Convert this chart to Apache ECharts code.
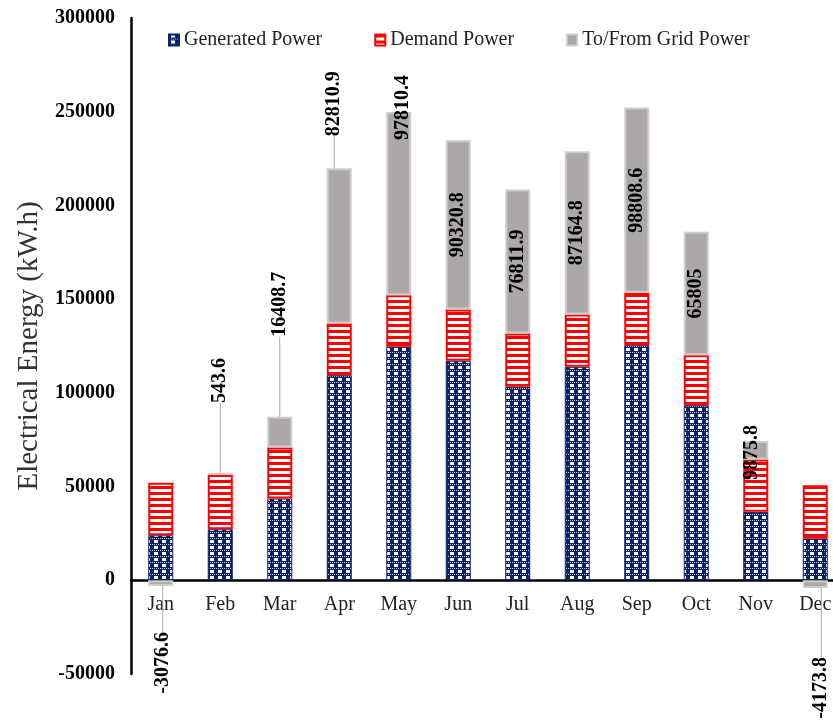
<!DOCTYPE html>
<html>
<head>
<meta charset="utf-8">
<title>Monthly Electrical Energy</title>
<script src="https://cdn.jsdelivr.net/npm/echarts@6/dist/echarts.min.js"></script>
<style>
  html, body { margin: 0; padding: 0; background: #fff; overflow: hidden; }
  #chart { width: 833px; height: 720px; }
</style>
</head>
<body>
<div id="chart"></div>
<script>
// Monthly energy balance (kW.h)
const months = ['Jan', 'Feb', 'Mar', 'Apr', 'May', 'Jun', 'Jul', 'Aug', 'Sep', 'Oct', 'Nov', 'Dec'];
const generatedPower = [24000, 27200, 43600, 109400, 124600, 117100, 103200, 113900, 125400, 93400, 36500, 22300];
const demandPower = [28100, 29300, 27200, 27600, 27500, 27400, 28500, 27900, 28000, 26700, 27900, 28400];
const gridPower = [-3076.6, 543.6, 16408.7, 82810.9, 97810.4, 90320.8, 76811.9, 87164.8, 98808.6, 65805, 9875.8, -4173.8];
const seriesNames = ['Generated Power', 'Demand Power', 'To/From Grid Power'];
const yMin = -50000, yMax = 300000, yStep = 50000;

const SERIF = "'Liberation Serif', 'Times New Roman', serif";

// Plot area
const gridLeft = 131, gridTop = 18, gridBottom = 46, gridWidth = 714;
const plotHeight = 720 - gridTop - gridBottom;
// distance from the plot bottom up to the zero line, so the month labels sit under it
const zeroLift = (0 - yMin) / (yMax - yMin) * plotHeight;

// Fill patterns for the stacked segments
function makeTile(w, h, paint) {
  const c = document.createElement('canvas');
  c.width = w; c.height = h;
  paint(c.getContext('2d'));
  return c;
}
const navyCheck = makeTile(8, 6, g => {
  g.fillStyle = '#0c2266'; g.fillRect(0, 0, 8, 6);
  g.fillStyle = '#ffffff'; g.fillRect(2, 0, 4, 3);
  g.fillStyle = '#c2cae3';
  for (let x = 0; x < 8; x += 2) g.fillRect(x, 4, 1, 1);
});
const redStripes = makeTile(6, 6, g => {
  g.fillStyle = '#ff0000'; g.fillRect(0, 0, 6, 6);
  g.fillStyle = '#ffffff'; g.fillRect(0, 3, 6, 3);
});

// Where the grid labels sit relative to their bar
const gridLabelPlace = {
  0: { side: 'below', gap: 46, dx: 2 },
  1: { side: 'above', gap: 70, dx: 0 },
  2: { side: 'above', gap: 80, dx: 0 },
  3: { side: 'above', gap: 32, dx: -5 },
  4: { side: 'above', gap: -28, dx: 4 },
  10: { side: 'above', gap: -39, dx: -4 },
  11: { side: 'below', gap: 69, dx: 6 }
};
const noLine = { 4: true, 10: true };

const gridData = gridPower.map((v, i) => {
  const item = { value: v };
  if (noLine[i]) item.labelLine = { show: false };
  return item;
});

const chart = echarts.init(document.getElementById('chart'), null, { renderer: 'canvas' });

chart.setOption({
  animation: false,
  backgroundColor: '#ffffff',
  legend: {
    data: seriesNames,
    left: 168,
    top: 30,
    padding: 0,
    itemGap: 52,
    itemWidth: 10,
    itemHeight: 11,
    icon: 'rect',
    textStyle: { fontFamily: SERIF, fontSize: 20, color: '#222' }
  },
  grid: {
    left: gridLeft, top: gridTop, bottom: gridBottom, width: gridWidth,
    containLabel: false, outerBoundsMode: 'none'
  },
  xAxis: {
    type: 'category',
    data: months,
    position: 'bottom',
    offset: -zeroLift,
    axisLine: { show: true, onZero: false, lineStyle: { color: '#000', width: 2.5 } },
    axisTick: { show: false },
    axisLabel: { fontFamily: SERIF, fontSize: 20, color: '#222', margin: 14 },
    splitLine: { show: false }
  },
  yAxis: {
    type: 'value',
    min: yMin,
    max: yMax,
    interval: yStep,
    name: 'Electrical Energy (kW.h)',
    nameLocation: 'middle',
    nameRotate: 90,
    nameGap: 68,
    nameTextStyle: { fontFamily: SERIF, fontSize: 29, color: '#333' },
    axisLine: { show: true, lineStyle: { color: '#000', width: 2.5 } },
    axisTick: { show: false },
    splitLine: { show: false },
    axisLabel: {
      fontFamily: SERIF, fontSize: 20, fontWeight: 'bold', color: '#000', margin: 16,
      formatter: v => String(v)
    }
  },
  series: [
    {
      name: seriesNames[0],
      type: 'bar',
      stack: 'energy',
      barWidth: 25,
      data: generatedPower,
      itemStyle: { color: { image: navyCheck, repeat: 'repeat' }, borderColor: '#0c2266', borderWidth: 1 }
    },
    {
      name: seriesNames[1],
      type: 'bar',
      stack: 'energy',
      barWidth: 25,
      data: demandPower,
      itemStyle: { color: { image: redStripes, repeat: 'repeat' }, borderColor: '#ff0000', borderWidth: 2 }
    },
    {
      name: seriesNames[2],
      type: 'bar',
      stack: 'energy',
      barWidth: 25,
      data: gridData,
      itemStyle: { color: '#ada8a8', borderColor: '#cfcccc', borderWidth: 2 },
      label: {
        show: true,
        position: 'inside',
        rotate: 90,
        formatter: p => String(p.value),
        fontFamily: SERIF,
        fontSize: 20,
        fontWeight: 'bold',
        color: '#000'
      },
      labelLine: { show: true, lineStyle: { color: '#a6a6a6', width: 1 } },
      labelLayout: function (p) {
        const s = gridLabelPlace[p.dataIndex];
        if (!s) return {};
        const r = p.rect;
        const cx = r.x + r.width / 2 + s.dx;
        if (s.side === 'above') {
          return { x: cx, y: r.y - s.gap, align: 'left', verticalAlign: 'middle' };
        }
        return { x: cx, y: r.y + r.height + s.gap, align: 'right', verticalAlign: 'middle' };
      }
    }
  ]
});
</script>
</body>
</html>
